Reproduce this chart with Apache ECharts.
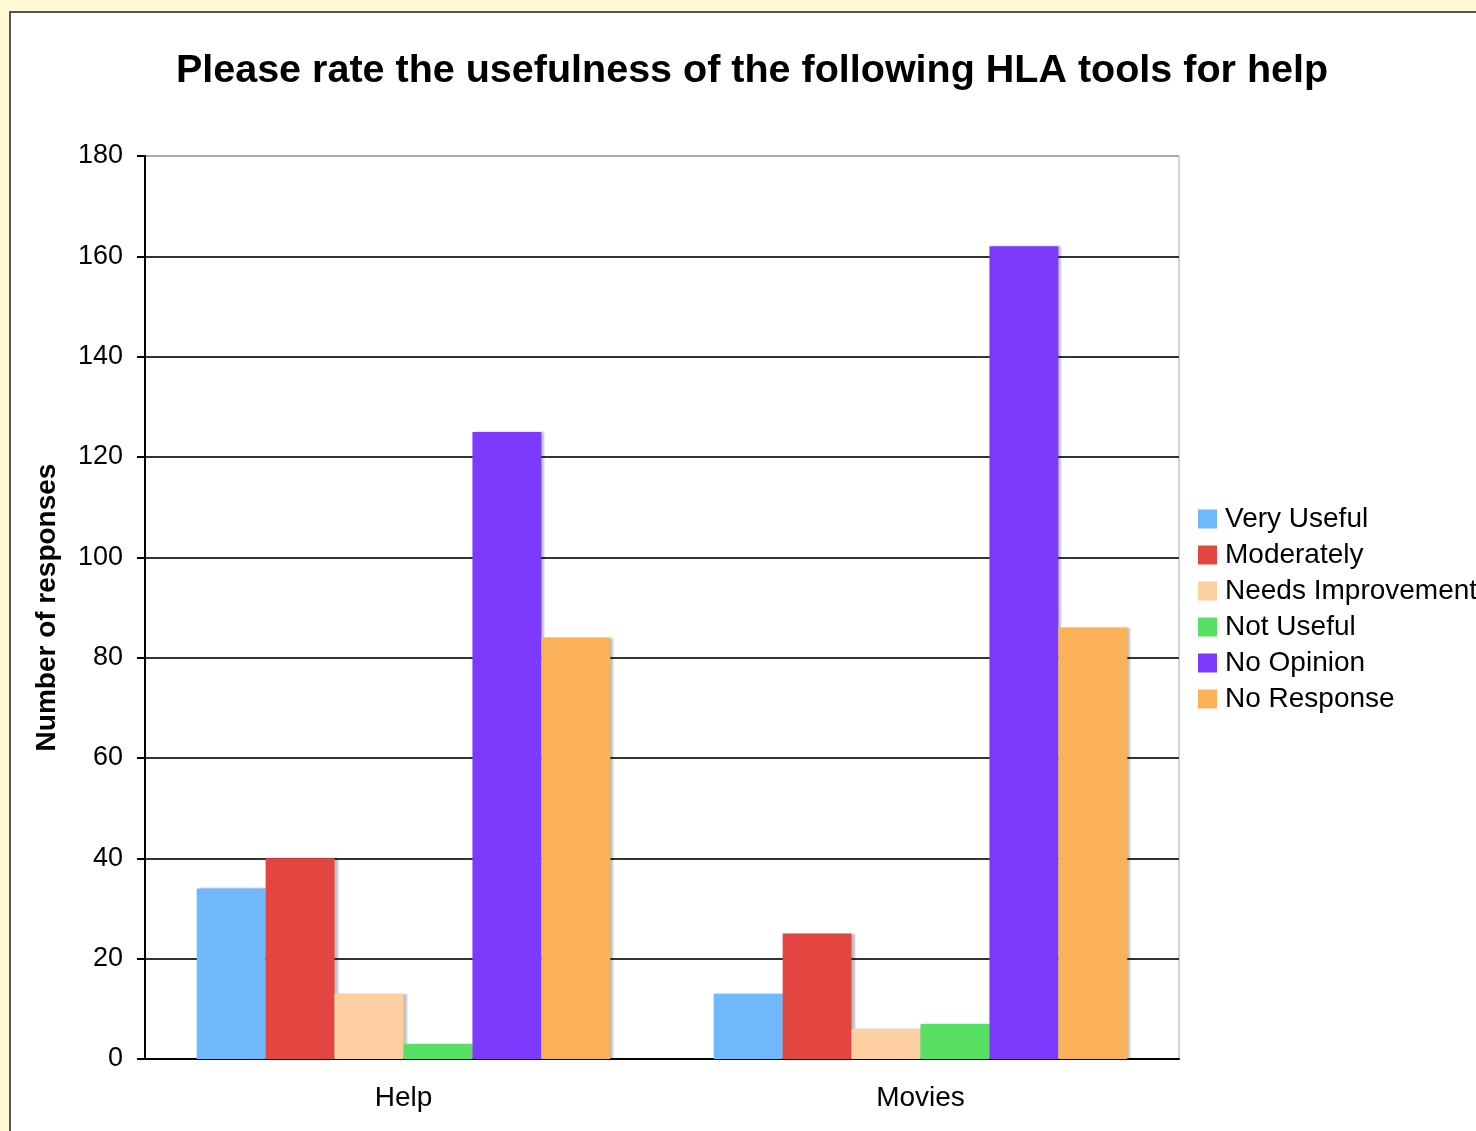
<!DOCTYPE html>
<html>
<head>
<meta charset="utf-8">
<script src="https://cdn.jsdelivr.net/npm/echarts@6/dist/echarts.min.js"></script>
<style>
    html, body {
        margin: 0;
        padding: 0;
        width: 1476px;
        height: 1131px;
        overflow: hidden;
        background-color: #fdfad3;
    }
    .panel {
        position: absolute;
        left: 9px;
        top: 11px;
        right: 0;
        bottom: 0;
        background-color: white;
        border-left: 2px solid #555;
        border-top: 2px solid #555;
    }
    #chart {
        position: absolute;
        left: 0;
        top: 0;
        width: 1476px;
        height: 1131px;
    }
</style>
</head>
<body>
<div class="panel"></div>
<div id="chart"></div>
<script>
    var categories = ['Help', 'Movies'];
    var seriesNames = ['Very Useful', 'Moderately', 'Needs Improvement', 'Not Useful', 'No Opinion', 'No Response'];
    var veryUseful = [34, 13];
    var moderately = [40, 25];
    var needsImprovement = [13, 6];
    var notUseful = [3, 7];
    var noOpinion = [125, 162];
    var noResponse = [84, 86];
    var colors = ['#6fb8fb', '#e34641', '#fdcfa1', '#57e064', '#7b3afc', '#fbb157'];

    var values = [veryUseful, moderately, needsImprovement, notUseful, noOpinion, noResponse];
    var font = 'Liberation Sans, Arial, sans-serif';

    var myChart = echarts.init(document.getElementById('chart'));

    // 上边框灰色，其余网格线深色
    var splitColors = ['#333', '#333', '#333', '#333', '#333', '#333', '#333', '#333', '#333', '#aaa'];

    var option = {
        animation: false,
        title: {
            text: 'Please rate the usefulness of the following HLA tools for help',
            left: 747,
            top: 46,
            textAlign: 'center',
            textStyle: {
                fontFamily: font,
                fontWeight: 'bold',
                fontSize: 39.5,
                color: '#000'
            }
        },
        legend: {
            orient: 'vertical',
            left: 1198,
            top: 505,
            padding: 0,
            icon: 'rect',
            itemWidth: 19,
            itemHeight: 19,
            itemGap: 8,
            data: seriesNames,
            textStyle: {
                fontFamily: font,
                fontSize: 28,
                lineHeight: 28,
                padding: [0, 0, 0, 3],
                color: '#000'
            }
        },
        grid: {
            left: 145,
            right: 297,
            top: 156,
            bottom: 72,
            show: true,
            borderColor: '#aaa',
            borderWidth: 1
        },
        xAxis: {
            type: 'category',
            data: categories,
            axisLine: {lineStyle: {color: '#000', width: 2}},
            axisTick: {length: 8, lineStyle: {color: '#000', width: 2}},
            axisLabel: {
                margin: 25,
                fontFamily: font,
                fontSize: 28,
                color: '#000'
            }
        },
        yAxis: {
            type: 'value',
            min: 0,
            max: 180,
            interval: 20,
            name: 'Number of responses',
            nameLocation: 'middle',
            nameRotate: 90,
            nameGap: 84,
            nameTextStyle: {
                fontFamily: font,
                fontWeight: 'bold',
                fontSize: 28,
                color: '#000'
            },
            axisLine: {show: true, lineStyle: {color: '#000', width: 2}},
            axisTick: {show: true, length: 8, lineStyle: {color: '#000', width: 2}},
            splitLine: {show: true, lineStyle: {color: splitColors, width: 2}},
            axisLabel: {
                margin: 22,
                fontFamily: font,
                fontSize: 27,
                color: '#000'
            }
        },
        series: seriesNames.map(function (name, i) {
            return {
                name: name,
                type: 'bar',
                data: values[i],
                barGap: '0%',
                barCategoryGap: '20%',
                itemStyle: {
                    color: colors[i],
                    shadowColor: 'rgba(0,0,0,0.25)',
                    shadowOffsetX: 3,
                    shadowBlur: 2
                }
            };
        })
    };

    myChart.setOption(option);
</script>
</body>
</html>
